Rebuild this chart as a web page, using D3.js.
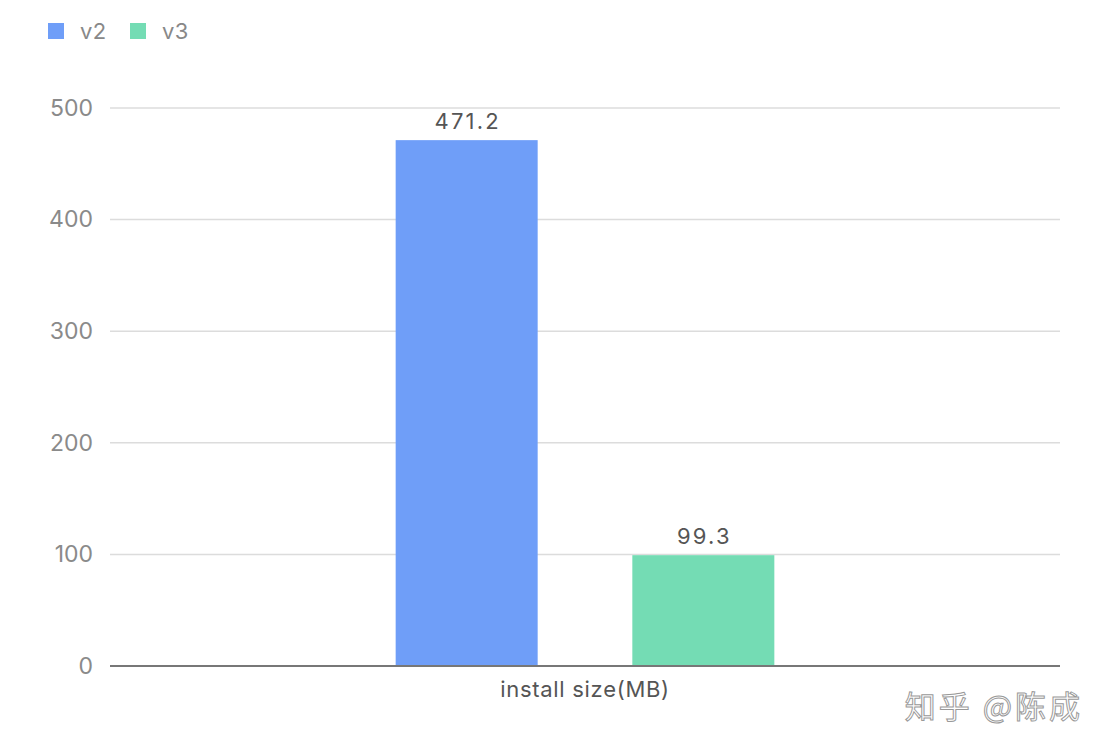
<!DOCTYPE html>
<html>
<head>
<meta charset="utf-8">
<style>
body, html {
	margin: 0;
	background: #fff;
}
svg text {
	font-family: "Inter", "Noto Sans", sans-serif;
}
</style>
</head>
<body>
<div id="chart"></div>
<script src="https://cdn.jsdelivr.net/npm/d3@7"></script>
<script>

const categories = ["install size(MB)"];
const seriesNames = ["v2", "v3"];
const v2Values = [471.2];
const v3Values = [99.3];
const yTicks = [0, 100, 200, 300, 400, 500];

const COLORS = ["#6f9ef8", "#74dcb4"];
const WIDTH = 1110;
const HEIGHT = 752;

const rows = categories.map((c, i) => ({
	category: c,
	values: [
		{ key: "v2", value: v2Values[i] },
		{ key: "v3", value: v3Values[i] }
	]
}));

const svg = d3.select("#chart").append("svg")
	.attr("width", WIDTH)
	.attr("height", HEIGHT);

const x0 = d3.scaleBand().domain(categories).range([110, 1060]).padding(0.43);
const x1 = d3.scaleBand().domain(seriesNames).range([0, x0.bandwidth()]).paddingInner(0.4);
const y = d3.scaleLinear().domain([0, 500]).range([666, 108]);
const color = d3.scaleOrdinal().domain(seriesNames).range(COLORS);

// grid lines
svg.append("g")
	.selectAll("line")
	.data(yTicks.filter(d => d > 0))
	.enter().append("line")
		.attr("x1", 110)
		.attr("x2", 1060)
		.attr("y1", d => y(d))
		.attr("y2", d => y(d))
		.attr("stroke", "#dcdcdc")
		.attr("stroke-width", 1.5);

// y tick labels
const yAxis = svg.append("g")
	.attr("transform", "translate(110,0)")
	.call(d3.axisLeft(y).tickValues(yTicks).tickSize(0).tickPadding(17));
yAxis.select(".domain").remove();
yAxis.selectAll("text")
	.attr("fill", "#8a8a8a")
	.style("font-size", "23px");

// bars
const groups = svg.append("g")
	.selectAll("g")
	.data(rows)
	.enter().append("g")
		.attr("transform", d => `translate(${x0(d.category)},0)`);

groups.selectAll("rect")
	.data(d => d.values)
	.enter().append("rect")
		.attr("x", d => x1(d.key))
		.attr("width", x1.bandwidth())
		.attr("y", d => y(d.value))
		.attr("height", d => y(0) - y(d.value))
		.attr("fill", d => color(d.key));

groups.selectAll("text")
	.data(d => d.values)
	.enter().append("text")
		.attr("x", d => x1(d.key) + x1.bandwidth() / 2 + 1)
		.attr("y", d => y(d.value) - 11)
		.attr("text-anchor", "middle")
		.attr("fill", "#555")
		.style("font-size", "22px")
		.style("letter-spacing", "2.2px")
		.text(d => d.value);

// baseline + x axis
const xAxis = svg.append("g")
	.attr("transform", `translate(0,${y(0)})`)
	.call(d3.axisBottom(x0).tickSize(0).tickPadding(15));
xAxis.select(".domain").attr("stroke", "#777").attr("stroke-width", 2)
	.attr("d", "M110,0H1060");
xAxis.selectAll("text")
	.attr("fill", "#555")
	.style("font-size", "22px")
	.style("letter-spacing", "0.7px");

// legend
const legend = svg.append("g")
	.selectAll("g")
	.data(seriesNames)
	.enter().append("g")
		.attr("transform", (d, i) => `translate(${48 + i * 82},23)`);
legend.append("rect")
	.attr("width", 16)
	.attr("height", 16)
	.attr("fill", d => color(d));
legend.append("text")
	.attr("x", 32)
	.attr("y", 16)
	.attr("fill", "#888")
	.style("font-size", "22px")
	.style("letter-spacing", "0.5px")
	.text(d => d);

// watermark
svg.append("text")
	.attr("x", 1083)
	.attr("y", 718)
	.attr("text-anchor", "end")
	.attr("fill", "#fff")
	.attr("stroke", "#999")
	.attr("stroke-width", 1)
	.style("font-family", "'Noto Sans CJK SC', sans-serif")
	.style("font-size", "31px")
	.style("letter-spacing", "3px")
	.text("知乎 @陈成");

</script>
</body>
</html>
